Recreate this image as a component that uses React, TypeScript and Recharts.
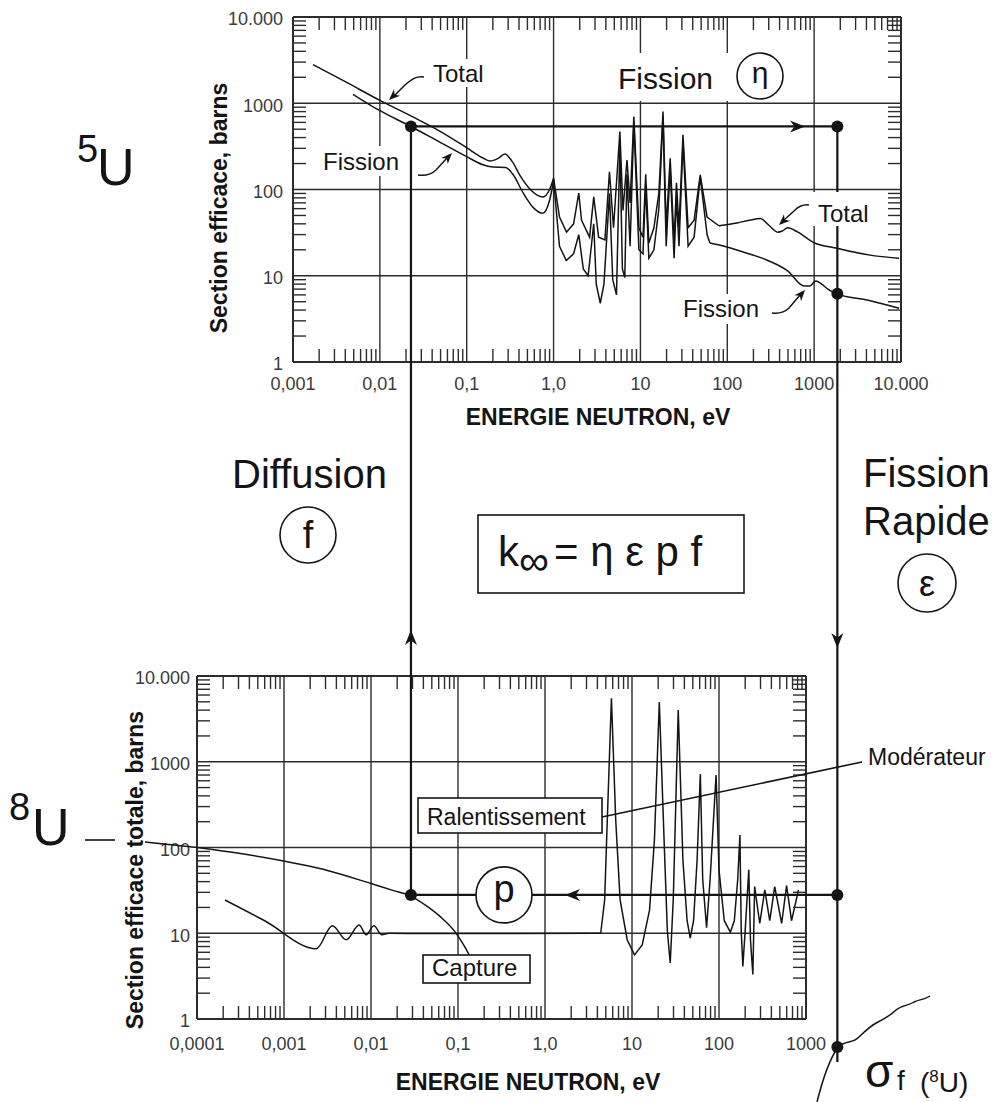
import React from "react";
import { LineChart, Line, XAxis, YAxis, ReferenceLine } from "recharts";

const FONT = '"Liberation Sans", Arial, Helvetica, sans-serif';
const INK = "#141414";
const GRID = "#2c2c2c";
const TICK = "#3a3a3a";

// ---------- axes ----------
const topXMajor = [0.001, 0.01, 0.1, 1, 10, 100, 1000, 10000];
const topXLabels = ["0,001", "0,01", "0,1", "1,0", "10", "100", "1000", "10.000"];
const botXMajor = [0.0001, 0.001, 0.01, 0.1, 1, 10, 100, 1000];
const botXLabels = ["0,0001", "0,001", "0,01", "0,1", "1,0", "10", "100", "1000"];
const yMajor = [1, 10, 100, 1000, 10000];
const yLabels = ["1", "10", "100", "1000", "10.000"];

// ---------- 235U : total & fission (eV, barns) ----------
const u5TotalLowE = [0.0017, 0.004, 0.01, 0.025, 0.05, 0.1, 0.15, 0.185, 0.23, 0.275, 0.33, 0.42, 0.55, 0.75, 0.9, 1.0];
const u5TotalLowS = [2800, 1780, 1080, 680, 470, 305, 235, 214, 230, 258, 215, 140, 98, 82, 100, 135];
const u5TotalResE = [1.0, 1.17, 1.41, 1.7, 1.95, 2.1, 2.6, 2.9, 3.3, 3.9, 4.4, 4.9, 5.8, 6.3, 7.0, 7.6, 8.4, 9.6, 10.7, 11.5, 12.5, 14.3, 16.3, 18.2, 19.8, 22, 24.4, 26, 27.8, 30.9, 35.4, 41.5, 48.8, 58.5, 80];
const u5TotalResS = [135, 48, 32, 40, 91, 44, 28, 82, 28, 26, 160, 36, 470, 57, 220, 70, 700, 36, 28, 150, 24, 36, 91, 800, 36, 230, 24, 120, 36, 430, 36, 44, 148, 48, 38];
const u5TotalHiE = [80, 130, 180, 240, 305, 380, 430, 495, 650, 1010, 1770, 5000, 9500];
const u5TotalHiS = [38, 41, 44, 46, 38, 32, 33, 36, 32, 24, 21, 17, 16];

const u5FisLowE = [0.0049, 0.01, 0.0228, 0.05, 0.1, 0.15, 0.2, 0.28, 0.34, 0.45, 0.6, 0.75, 0.9, 1.0];
const u5FisLowS = [1270, 820, 538, 350, 240, 195, 182, 180, 150, 90, 60, 53, 75, 128];
const u5FisResE = [1.0, 1.17, 1.4, 1.7, 1.95, 2.2, 2.5, 2.9, 3.1, 3.45, 3.8, 4.4, 4.8, 5.3, 5.8, 6.2, 6.6, 7.0, 7.6, 8.4, 9.6, 10.7, 11.5, 12.5, 14.3, 16.3, 18.2, 19.8, 22, 24.4, 26, 27.8, 30.9, 35.4, 41.5, 48.8, 58.5, 63];
const u5FisResS = [128, 22, 15, 18, 30, 12, 10, 40, 8, 4.8, 8, 90, 9, 6, 320, 12, 9.5, 150, 22, 600, 20, 18, 110, 16, 20, 60, 700, 22, 180, 16, 80, 22, 350, 22, 28, 140, 30, 24];
const u5FisHiE = [63, 92, 158, 265, 495, 770, 890, 1040, 1220, 1440, 1780, 4200, 9500];
const u5FisHiS = [24, 22, 18.6, 15.7, 11.4, 7.6, 7.6, 8.7, 8, 7, 6.2, 5.2, 4.2];

// ---------- 238U / moderator (eV, barns) ----------
const modE = [0.0001, 0.000316, 0.00089, 0.00316, 0.01, 0.0178, 0.028, 0.0447, 0.063, 0.093, 0.117, 0.138];
const modS = [100, 85, 71, 54, 38, 31.6, 27.5, 20.4, 15.5, 10.3, 7.2, 5.3];
const u8LowE = [0.00021, 0.0006, 0.00235, 0.0036, 0.0052, 0.0073, 0.0088, 0.0108, 0.0133, 0.016, 0.05, 0.5, 4.37];
const u8LowS = [24.4, 14, 6.6, 12.2, 8.4, 12.5, 9.6, 12.2, 9.6, 10, 9.9, 9.9, 10];
const u8ResE = [4.37, 4.85, 5.2, 5.8, 6.5, 7.3, 8.8, 10.7, 13.1, 15.9, 18.1, 20.6, 23.6, 25.5, 27.5, 29.8, 34, 38.5, 43, 46.7, 51, 56, 61, 65, 72, 79, 92.5, 100, 115, 135, 150, 164, 174, 180, 188, 200, 220, 230, 245, 257, 294, 336, 383, 437, 525, 598, 682, 820];
const u8ResS = [10, 24.5, 209, 5500, 209, 24.5, 8.4, 5.6, 7.3, 18.6, 122, 4970, 93, 10.6, 4.5, 24.5, 4000, 71, 14, 8.8, 14, 71, 720, 42, 11.6, 42, 700, 55, 14, 10.3, 14, 42, 140, 10.8, 4.1, 10.8, 55, 8.4, 3.3, 35, 13, 32, 14, 35, 13, 36, 14, 32];

// ---------- layout ----------
const TOP = { x0: 293, x1: 901, y0: 17, y1: 362, divTop: 0, h: 440 };
const BOT = { x0: 197, x1: 806, y0: 676, y1: 1019, divTop: 600, h: 502 };

const pts = (e: number[], s: number[]) => e.map((v, i) => ({ e: v, s: s[i] }));
const minorTicks = (majors: number[]) =>
  majors.slice(0, -1).flatMap((d) => [2, 3, 4, 5, 6, 7, 8, 9].map((m) => Number((d * m).toPrecision(8))));
const majorIndex = (v: number, majors: number[]) =>
  majors.findIndex((m) => Math.abs(Math.log10(m) - Math.log10(v)) < 1e-6);

const xOf = (g: any, majors: number[], e: number) => {
  const a = Math.log10(majors[0]);
  const b = Math.log10(majors[majors.length - 1]);
  return g.x0 + ((Math.log10(e) - a) / (b - a)) * (g.x1 - g.x0);
};
const yOf = (g: any, s: number) => g.y1 - (Math.log10(s) / 4) * (g.y1 - g.y0);

function makeTick(side: string, majors: number[], labels: string[] | null, gap: number, shift = 0) {
  return (p: any) => {
    const { x, y, payload } = p;
    const i = majorIndex(payload.value, majors);
    const L = 13;
    const ls = { stroke: GRID, strokeWidth: 1.4 };
    if (i < 0) {
      if (side === "bottom") return <line x1={x} y1={y} x2={x} y2={y - L} {...ls} />;
      if (side === "top") return <line x1={x} y1={y} x2={x} y2={y + L} {...ls} />;
      if (side === "left") return <line x1={x} y1={y} x2={x + L} y2={y} {...ls} />;
      return <line x1={x} y1={y} x2={x - L} y2={y} {...ls} />;
    }
    if (!labels) return <g />;
    const ts = { fontFamily: FONT, fontSize: 18, fill: TICK };
    if (side === "bottom")
      return (
        <text x={x} y={y + gap} textAnchor="middle" {...ts}>
          {labels[i]}
        </text>
      );
    return (
      <text x={x - gap} y={y + shift} dy="0.35em" textAnchor="end" {...ts}>
        {labels[i]}
      </text>
    );
  };
}

function SigmaChart({ g, xMajor, xLabels, xGap, yGap, series }: any) {
  const xTicks = [...xMajor, ...minorTicks(xMajor)];
  const yTicks = [...yMajor, ...minorTicks(yMajor)];
  const xDomain = [xMajor[0], xMajor[xMajor.length - 1]];
  const margin = {
    top: g.y0 - g.divTop - 1,
    bottom: g.divTop + g.h - g.y1 - 30,
    left: g.x0 - 60,
    right: 1004 - g.x1 - 1,
  };
  const axisLine = { stroke: GRID, strokeWidth: 2 };
  const common = {
    type: "number" as const,
    scale: "log" as const,
    allowDataOverflow: true,
    interval: 0,
    tickSize: 0,
    tickMargin: 0,
    tickLine: false,
    axisLine,
  };
  return (
    <div style={{ position: "absolute", left: 0, top: g.divTop }}>
      <LineChart width={1004} height={g.h} margin={margin}>
        <XAxis dataKey="e" domain={xDomain} ticks={xTicks} height={30} tick={makeTick("bottom", xMajor, xLabels, xGap)} {...common} />
        <XAxis xAxisId="t" orientation="top" dataKey="e" domain={xDomain} ticks={xTicks} height={1} tick={makeTick("top", xMajor, null, 0)} {...common} />
        <YAxis domain={[1, 10000]} ticks={yTicks} width={60} tick={makeTick("left", yMajor, yLabels, yGap, 2)} {...common} />
        <YAxis yAxisId="r" orientation="right" domain={[1, 10000]} ticks={yTicks} width={1} tick={makeTick("right", yMajor, null, 0)} {...common} />
        {xMajor.slice(1, -1).map((v: number) => (
          <ReferenceLine key={"gx" + v} x={v} stroke={GRID} strokeWidth={1.4} />
        ))}
        {yMajor.slice(1, -1).map((v: number) => (
          <ReferenceLine key={"gy" + v} y={v} stroke={GRID} strokeWidth={1.4} />
        ))}
        {series.map((s: any, i: number) => (
          <Line
            key={i}
            data={s.data}
            dataKey="s"
            type={s.type}
            stroke={INK}
            strokeWidth={1.5}
            dot={false}
            isAnimationActive={false}
          />
        ))}
      </LineChart>
    </div>
  );
}

function Head({ tip, from, len = 15, half = 6 }: any) {
  const dx = tip[0] - from[0];
  const dy = tip[1] - from[1];
  const d = Math.hypot(dx, dy) || 1;
  const ux = dx / d;
  const uy = dy / d;
  const bx = tip[0] - ux * len;
  const by = tip[1] - uy * len;
  const nx = -uy * half;
  const ny = ux * half;
  const mx = tip[0] - ux * len * 0.7;
  const my = tip[1] - uy * len * 0.7;
  return <path d={`M${tip[0]},${tip[1]} L${bx + nx},${by + ny} L${mx},${my} L${bx - nx},${by - ny} Z`} fill={INK} />;
}

function Label({ x, y, size = 24, bg, children, anchor = "start", weight = "normal" }: any) {
  return (
    <g>
      {bg && <rect x={bg[0]} y={bg[1]} width={bg[2]} height={bg[3]} fill="#fff" />}
      <text x={x} y={y} fontSize={size} fontFamily={FONT} fill={INK} textAnchor={anchor} fontWeight={weight}>
        {children}
      </text>
    </g>
  );
}

function Circ({ cx, cy, r, ch, size, dy = "0.35em" }: any) {
  return (
    <g>
      <circle cx={cx} cy={cy} r={r} fill="#fff" stroke={INK} strokeWidth={1.6} />
      <text x={cx} y={cy} dy={dy} textAnchor="middle" fontSize={size} fontFamily={FONT} fill={INK}>
        {ch}
      </text>
    </g>
  );
}

function Overlay() {
  const xl = xOf(TOP, topXMajor, 0.0228);
  const xr = xOf(TOP, topXMajor, 1850);
  const yTop = yOf(TOP, 538);
  const yFis = yOf(TOP, 6.2);
  const yP = yOf(BOT, 28);
  const yU8 = 1047;
  const lw = 2.2;
  return (
    <svg width={1004} height={1102} style={{ position: "absolute", left: 0, top: 0 }}>
      {/* cycle lines */}
      <line x1={xl} y1={yTop} x2={xr} y2={yTop} stroke={INK} strokeWidth={lw} />
      <line x1={xl} y1={yTop} x2={xl} y2={yP} stroke={INK} strokeWidth={lw} />
      <line x1={xr} y1={yTop} x2={xr} y2={1062} stroke={INK} strokeWidth={lw} />
      <line x1={xr} y1={yP} x2={xl} y2={yP} stroke={INK} strokeWidth={lw} />
      <Head tip={[805, yTop]} from={[780, yTop]} />
      <Head tip={[xl, 630]} from={[xl, 660]} />
      <Head tip={[xr, 648]} from={[xr, 620]} />
      <Head tip={[565, yP]} from={[590, yP]} />
      {[[xl, yTop], [xr, yTop], [xr, yFis], [xr, yP], [xl, yP], [xr, yU8]].map(([cx, cy], i) => (
        <circle key={i} cx={cx} cy={cy} r={6} fill={INK} />
      ))}

      {/* scattering curve running past the axis, and 8U marker */}
      <line x1={145} y1={842} x2={BOT.x0} y2={yOf(BOT, 100)} stroke={INK} strokeWidth={1.5} />
      <line x1={85} y1={840} x2={115} y2={840} stroke={INK} strokeWidth={1.6} />

      {/* fast-fission curve of 238U */}
      <path
        d="M817,1102 C822,1082 829,1060 838,1047 C846,1040 852,1044 859,1037 C866,1030 870,1026 878,1022 C886,1018 890,1016 896,1010 C902,1005 908,1006 914,1002 C920,999 924,1000 930,996"
        fill="none"
        stroke={INK}
        strokeWidth={1.5}
      />

      {/* top-chart labels with small pointing arrows */}
      <Label x={433} y={82} bg={[429, 59, 60, 28]}>Total</Label>
      <path d="M424,77 C416,76 412,79 405,85 L394,96" fill="none" stroke={INK} strokeWidth={1.5} />
      <Head tip={[389, 100]} from={[405, 85]} len={11} half={4.5} />
      <Label x={323} y={170} bg={[319, 146, 88, 30]}>Fission</Label>
      <path d="M418,175 C426,176 432,174 436,170 L447,158" fill="none" stroke={INK} strokeWidth={1.5} />
      <Head tip={[452, 153]} from={[436, 170]} len={11} half={4.5} />
      <Label x={818} y={222} bg={[812, 192, 62, 34]}>Total</Label>
      <path d="M809,205 C802,204 798,207 794,211 L784,220" fill="none" stroke={INK} strokeWidth={1.5} />
      <Head tip={[779, 225]} from={[794, 211]} len={11} half={4.5} />
      <Label x={683} y={317} bg={[679, 294, 90, 30]}>Fission</Label>
      <path d="M772,313 C780,314 785,312 789,308 L800,295" fill="none" stroke={INK} strokeWidth={1.5} />
      <Head tip={[805, 290]} from={[789, 308]} len={11} half={4.5} />

      <Label x={618} y={89} size={30} bg={[612, 53, 176, 48]}>Fission</Label>
      <Circ cx={760} cy={76} r={23} ch="η" size={30} dy="0.22em" />

      {/* axis titles */}
      <Label x={598} y={425} size={23} anchor="middle" weight="bold">ENERGIE NEUTRON, eV</Label>
      <Label x={528} y={1090} size={23} anchor="middle" weight="bold">ENERGIE NEUTRON, eV</Label>
      <text transform="translate(227,208) rotate(-90)" textAnchor="middle" fontSize={23} fontWeight="bold" fontFamily={FONT} fill={INK}>
        Section efficace, barns
      </text>
      <text transform="translate(143,870) rotate(-90)" textAnchor="middle" fontSize={23} fontWeight="bold" fontFamily={FONT} fill={INK}>
        Section efficace totale, barns
      </text>

      {/* isotopes */}
      <text x={77} y={162} fontSize={38} fontFamily={FONT} fill={INK}>5</text>
      <text x={97} y={185} fontSize={52} fontFamily={FONT} fill={INK}>U</text>
      <text x={9} y={820} fontSize={38} fontFamily={FONT} fill={INK}>8</text>
      <text x={32} y={845} fontSize={52} fontFamily={FONT} fill={INK}>U</text>

      {/* middle of the cycle */}
      <Label x={232} y={488} size={40}>Diffusion</Label>
      <Circ cx={308} cy={535} r={28} ch="f" size={38} />
      <rect x={478} y={515} width={266} height={78} fill="#fff" stroke={INK} strokeWidth={1.6} />
      <text x={498} y={566} fontSize={42} fontFamily={FONT} fill={INK}>
        k<tspan fontSize={42} dy={9}>∞</tspan>
        <tspan dy={-9} dx={5}>= η ε p f</tspan>
      </text>
      <Label x={863} y={487} size={40}>Fission</Label>
      <Label x={863} y={535} size={40}>Rapide</Label>
      <Circ cx={927} cy={583} r={29} ch="ε" size={36} />

      {/* bottom chart annotations */}
      <line x1={862} y1={762} x2={602} y2={817} stroke={INK} strokeWidth={1.6} />
      <Label x={868} y={765} size={23}>Modérateur</Label>
      <rect x={418} y={798} width={184} height={35} fill="#fff" stroke={INK} strokeWidth={1.6} />
      <Label x={427} y={825} size={23}>Ralentissement</Label>
      <rect x={423} y={955} width={107} height={28} fill="#fff" stroke={INK} strokeWidth={1.6} />
      <Label x={432} y={976} size={24}>Capture</Label>
      <Circ cx={504} cy={yP} r={28} ch="p" size={38} dy="0.18em" />

      <text x={865} y={1087} fontSize={46} fontFamily={FONT} fill={INK}>σ</text>
      <text x={897} y={1090} fontSize={28} fontFamily={FONT} fill={INK}>f</text>
      <text x={920} y={1092} fontSize={28} fontFamily={FONT} fill={INK}>
        (<tspan fontSize={17} dy={-10}>8</tspan>
        <tspan dy={10}>U)</tspan>
      </text>
    </svg>
  );
}

export default function App() {
  const topSeries = [
    { data: pts(u5TotalLowE, u5TotalLowS), type: "monotone" },
    { data: pts(u5TotalResE, u5TotalResS), type: "linear" },
    { data: pts(u5TotalHiE, u5TotalHiS), type: "monotone" },
    { data: pts(u5FisLowE, u5FisLowS), type: "monotone" },
    { data: pts(u5FisResE, u5FisResS), type: "linear" },
    { data: pts(u5FisHiE, u5FisHiS), type: "monotone" },
  ];
  const botSeries = [
    { data: pts(modE, modS), type: "monotone" },
    { data: pts(u8LowE, u8LowS), type: "monotone" },
    { data: pts(u8ResE, u8ResS), type: "linear" },
  ];
  return (
    <div style={{ position: "absolute", left: 0, top: 0, width: 1004, height: 1102, background: "#fff", overflow: "hidden" }}>
      <SigmaChart g={TOP} xMajor={topXMajor} xLabels={topXLabels} xGap={28} yGap={10} series={topSeries} />
      <SigmaChart g={BOT} xMajor={botXMajor} xLabels={botXLabels} xGap={31} yGap={7} series={botSeries} />
      <Overlay />
    </div>
  );
}
